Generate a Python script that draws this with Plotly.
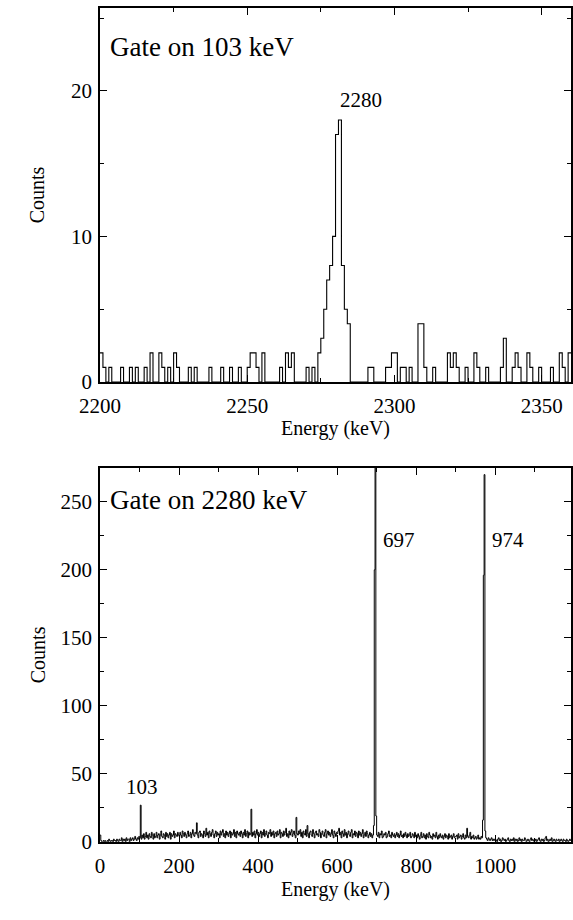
import plotly.graph_objects as go

# ---------------- data ----------------
# Top panel: gate on 103 keV, 1-keV bins starting at 2200 keV
TOP_BIN_START = 2200
TOP_BIN_WIDTH = 1
top_counts = [
    2, 1, 0, 1, 0, 0, 0, 1, 0, 0,      # 2200-2209
    1, 0, 1, 0, 0, 1, 0, 2, 0, 0,      # 2210-2219
    2, 1, 0, 1, 0, 2, 1, 0, 0, 0,      # 2220-2229
    1, 0, 1, 0, 0, 0, 0, 1, 0, 0,      # 2230-2239
    0, 1, 0, 0, 1, 0, 0, 1, 0, 0,      # 2240-2249
    1, 2, 2, 1, 0, 2, 0, 0, 0, 0,      # 2250-2259
    0, 1, 0, 2, 1, 2, 0, 0, 0, 0,      # 2260-2269
    1, 0, 1, 0, 2, 3, 5, 7, 8, 10,     # 2270-2279
    17, 18, 8, 5, 4, 0, 0, 0, 0, 0,    # 2280-2289
    0, 1, 1, 0, 0, 0, 0, 1, 1, 2,      # 2290-2299
    2, 0, 1, 1, 0, 1, 0, 0, 4, 4,      # 2300-2309
    1, 0, 0, 1, 0, 0, 0, 0, 2, 1,      # 2310-2319
    2, 1, 0, 0, 1, 0, 0, 2, 1, 0,      # 2320-2329
    0, 1, 0, 0, 0, 0, 1, 3, 0, 0,      # 2330-2339
    1, 2, 1, 0, 0, 2, 1, 0, 0, 1,      # 2340-2349
    0, 0, 0, 1, 0, 0, 2, 1, 0, 2,      # 2350-2359
]

# Bottom panel: gate on 2280 keV, 2-keV bins starting at 0 keV
BOT_BIN_START = 0
BOT_BIN_WIDTH = 2
bot_counts = [
    # 0-100
    5, 1, 0, 0, 1, 0, 1, 0, 0, 1,  0, 2, 1, 0, 1, 1, 0, 2, 1, 1,
    0, 2, 1, 0, 2, 1, 1, 3, 0, 2,  1, 2, 0, 3, 1, 2, 2, 0, 3, 1,
    2, 3, 1, 2, 4, 2, 1, 3, 2, 4,
    # 100-200
    3, 27, 2, 5, 3, 6, 2, 4, 7, 3,  5, 2, 6, 4, 3, 7, 5, 2, 6, 3,
    4, 7, 3, 5, 6, 2, 5, 8, 4, 3,  6, 5, 2, 7, 4, 6, 3, 5, 7, 2,
    6, 4, 5, 8, 3, 6, 5, 4, 7, 5,
    # 200-300
    4, 7, 5, 3, 8, 6, 4, 7, 5, 3,  6, 8, 4, 5, 7, 3, 6, 9, 5, 4,
    7, 6, 14, 5, 3, 7, 8, 4, 6, 5,  3, 8, 6, 4, 10, 5, 7, 3, 8, 6,
    4, 7, 9, 5, 3, 6, 8, 4, 7, 5,
    # 300-400
    6, 3, 8, 5, 7, 9, 4, 6, 3, 8,  5, 7, 4, 6, 8, 3, 7, 5, 6, 9,
    4, 7, 3, 8, 6, 5, 7, 4, 8, 6,  3, 7, 5, 9, 4, 6, 8, 3, 7, 5,
    6, 24, 4, 7, 5, 8, 3, 6, 9, 5,
    # 400-500
    7, 4, 6, 8, 3, 7, 5, 9, 4, 6,  8, 5, 3, 7, 6, 9, 4, 7, 5, 8,
    3, 6, 7, 4, 8, 5, 6, 9, 3, 7,  6, 4, 8, 5, 7, 10, 4, 6, 3, 8,
    5, 7, 9, 4, 6, 8, 5, 3, 18, 6,
    # 500-600
    5, 8, 6, 9, 4, 7, 3, 8, 6, 5,  9, 4, 12, 6, 3, 7, 8, 5, 4, 9,
    6, 3, 7, 8, 5, 6, 4, 9, 7, 3,  6, 8, 5, 4, 7, 9, 3, 6, 8, 5,
    7, 4, 6, 9, 5, 3, 8, 6, 4, 7,
    # 600-700
    6, 8, 10, 5, 7, 3, 8, 6, 4, 9,  5, 7, 3, 6, 8, 5, 4, 7, 9, 3,
    6, 5, 8, 4, 7, 6, 3, 8, 5, 7,  4, 6, 9, 3, 5, 7, 4, 8, 6, 3,
    5, 7, 4, 6, 3, 5, 12, 200, 300, 19,
    # 700-800
    5, 4, 7, 3, 6, 5, 8, 3, 4, 6,  5, 7, 3, 4, 6, 8, 4, 5, 3, 7,
    5, 4, 6, 3, 5, 7, 4, 6, 3, 5,  8, 4, 5, 3, 6, 4, 7, 5, 3, 6,
    4, 5, 7, 3, 4, 6, 5, 3, 7, 4,
    # 800-900
    5, 3, 6, 4, 2, 5, 7, 3, 4, 6,  3, 5, 2, 6, 4, 3, 7, 5, 3, 4,
    2, 6, 4, 5, 3, 7, 4, 2, 5, 3,  6, 4, 3, 5, 2, 4, 6, 3, 5, 4,
    2, 6, 3, 4, 5, 2, 4, 6, 3, 4,
    # 900-1000
    4, 5, 2, 6, 3, 4, 5, 2, 4, 6,  3, 2, 5, 3, 10, 4, 3, 5, 7, 2,
    4, 3, 5, 2, 3, 4, 2, 3, 5, 2,  3, 2, 4, 3, 16, 196, 270, 8, 3, 2,
    1, 3, 2, 1, 2, 3, 1, 2, 1, 2,
    # 1000-1100
    2, 1, 0, 2, 3, 1, 2, 0, 1, 3,  2, 1, 2, 0, 1, 2, 3, 1, 0, 2,
    1, 2, 1, 3, 0, 2, 1, 2, 0, 1,  3, 1, 2, 0, 2, 1, 1, 3, 2, 0,
    1, 2, 1, 0, 2, 3, 1, 2, 1, 0,
    # 1100-1192
    1, 2, 0, 1, 2, 3, 1, 0, 2, 1,  2, 0, 1, 3, 4, 1, 2, 0, 1, 2,
    1, 3, 0, 1, 2, 1, 0, 2, 1, 1,  2, 0, 1, 2, 1, 0, 2, 1, 1, 0,
    2, 1, 0, 1, 2, 1,
]

top_labels = [("2280", 2280.8, 19.4)]
bot_labels = [("103", 107, 40), ("697", 711, 222), ("974", 987, 222)]
top_title = "Gate on 103 keV"
bot_title = "Gate on 2280 keV"
x_title = "Energy (keV)"
y_title = "Counts"

# ---------------- helpers ----------------
def steps(start, width, counts):
    xs = [start + i * width for i in range(len(counts) + 1)]
    ys = list(counts) + [counts[-1]]
    return xs, ys

FONT = "Liberation Serif, Times New Roman, Times, DejaVu Serif, serif"
W, H = 573, 920
L, R = 82, 571
TOP_T, TOP_B = 8, 387
BOT_T, BOT_B = 474, 853

def py(px):
    return 1 - px / H

fig = go.Figure()
tx, ty = steps(TOP_BIN_START, TOP_BIN_WIDTH, top_counts)
fig.add_trace(go.Scatter(x=tx, y=ty, mode="lines", line=dict(shape="hv", color="black", width=1.1),
                         xaxis="x", yaxis="y", showlegend=False, hoverinfo="skip"))
bx, by = steps(BOT_BIN_START, BOT_BIN_WIDTH, bot_counts)
fig.add_trace(go.Scatter(x=bx, y=by, mode="lines", line=dict(shape="hv", color="black", width=1),
                         xaxis="x2", yaxis="y2", showlegend=False, hoverinfo="skip"))

tickfont = dict(family=FONT, size=21, color="black")
common = dict(showline=True, linecolor="black", linewidth=1.5, mirror="ticks",
              ticks="inside", ticklen=7, tickwidth=1.2, tickcolor="black",
              showgrid=False, zeroline=False, tickfont=tickfont)

fig.update_layout(
    width=W, height=H,
    margin=dict(l=0, r=0, t=0, b=0),
    paper_bgcolor="white", plot_bgcolor="white",
    font=dict(family=FONT, color="black"),
    xaxis=dict(domain=[L / W, R / W], anchor="y", range=[2200, 2360], tick0=2200, dtick=50,
               minor=dict(dtick=25, ticks="inside", ticklen=4, tickcolor="black"),
               ticklabelstandoff=4, **common),
    yaxis=dict(domain=[py(TOP_B), py(TOP_T)], anchor="x", range=[0, 25.7], tick0=0, dtick=10,
               minor=dict(dtick=5, ticks="inside", ticklen=4, tickcolor="black"),
               ticklabelstandoff=2, **common),
    xaxis2=dict(domain=[L / W, R / W], anchor="y2", range=[0, 1192], tick0=0, dtick=200,
                minor=dict(dtick=100, ticks="inside", ticklen=4, tickcolor="black"),
                ticklabelstandoff=4, **common),
    yaxis2=dict(domain=[py(BOT_B), py(BOT_T)], anchor="x2", range=[0, 275], tick0=0, dtick=50,
                minor=dict(dtick=25, ticks="inside", ticklen=4, tickcolor="black"),
                ticklabelstandoff=2, **common),
)

ann = []
ann.append(dict(text=top_title, xref="x domain", yref="y domain", x=0.018,
                y=(TOP_B - 48) / (TOP_B - TOP_T),
                xanchor="left", yanchor="middle", showarrow=False,
                font=dict(family=FONT, size=27, color="black")))
ann.append(dict(text=bot_title, xref="x2 domain", yref="y2 domain", x=0.018,
                y=(BOT_B - 507) / (BOT_B - BOT_T),
                xanchor="left", yanchor="middle", showarrow=False,
                font=dict(family=FONT, size=27, color="black")))
for t, x, y in top_labels:
    ann.append(dict(text=t, x=x, y=y, xref="x", yref="y", showarrow=False,
                    xanchor="left", yanchor="middle", font=dict(family=FONT, size=21, color="black")))
for t, x, y in bot_labels:
    anchor = "center" if t == "103" else "left"
    ann.append(dict(text=t, x=x, y=y, xref="x2", yref="y2", showarrow=False,
                    xanchor=anchor, yanchor="middle", font=dict(family=FONT, size=21, color="black")))
# axis titles
for yc in [(TOP_T + TOP_B) / 2, (BOT_T + BOT_B) / 2]:
    ann.append(dict(text=y_title, xref="paper", yref="paper", x=17 / W, y=py(yc), textangle=-90,
                    xanchor="center", yanchor="middle", showarrow=False,
                    font=dict(family=FONT, size=20, color="black")))
for yc in [434, 901]:
    ann.append(dict(text=x_title, xref="paper", yref="paper", x=(L + R) / 2 / W, y=py(yc),
                    xanchor="center", yanchor="middle", showarrow=False,
                    font=dict(family=FONT, size=20, color="black")))
fig.update_layout(annotations=ann)

fig.write_html("out.html")
